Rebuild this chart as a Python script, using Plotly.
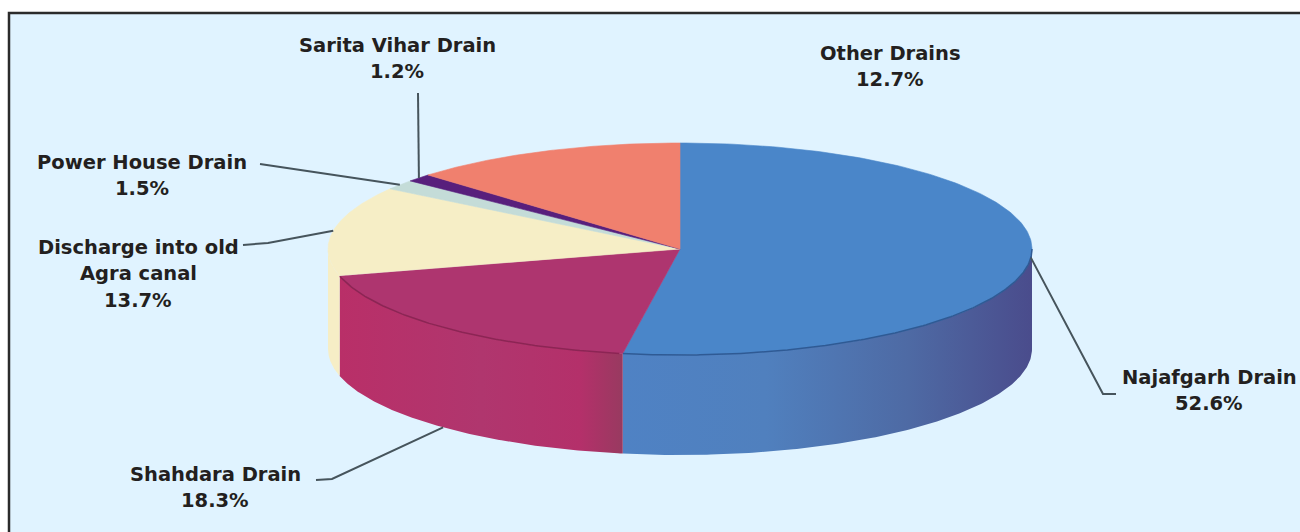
import numpy as np
import plotly.graph_objects as go

# ---- data ----
labels = ["Najafgarh Drain", "Shahdara Drain", "Discharge into old<br>Agra canal",
          "Power House Drain", "Sarita Vihar Drain", "Other Drains"]
shares = [52.6, 18.3, 13.7, 1.5, 1.2, 12.7]

# ---- styles ----
top_colors = ["#4a86c9", "#ae356f", "#f6eec6", "#c4dcd8", "#581f7c", "#f0806e"]
wall_scales = [
    [[0, "#4f82c4"], [0.35, "#5080be"], [0.7, "#4e6aa4"], [1, "#4a4c8c"]],
    [[0, "#b92f68"], [0.5, "#b0366e"], [0.85, "#b4306a"], [1, "#983a60"]],
    [[0, "#f6eec6"], [1, "#f6eec6"]],
    [[0, "#c4dcd8"], [1, "#c4dcd8"]],
    [[0, "#581f7c"], [1, "#581f7c"]],
    [[0, "#f0806e"], [1, "#f0806e"]],
]
BG = "#e0f3ff"
CX, CY, RX, RY, DEPTH = 680, 249, 352, 106, 100
LINE_GAP = 26.5

# label placement (pixel-like axis units): centre x, y of first line
label_pos = [(1209, 377), (215, 474), (138, 247), (142, 162), (397, 45), (890, 53)]
# leader waypoints after the rim point; None = no leader
leaders = [[(1103, 394), (1116, 394)], [(332, 479), (316, 480)], [(268, 243), (243, 245)],
           [(260, 164)], [(418, 93)], None]
leader_on_wall = [False, True, False, False, False, False]

def pt(deg, dy=0.0):
    a = np.radians(deg)
    return CX + RX * np.sin(a), CY - RY * np.cos(a) + dy

fig = go.Figure()
edges = np.concatenate([[0], np.cumsum(shares)]) / sum(shares) * 360

# walls (only the front half of the rim, 90..270 deg clockwise from top)
for i in range(len(shares)):
    a0, a1 = max(edges[i], 90), min(edges[i + 1], 270)
    if a1 <= a0:
        continue
    t = np.linspace(a0, a1, 160)
    xt, yt = pt(t)
    xb, yb = pt(t, DEPTH)
    fig.add_trace(go.Scatter(
        x=np.r_[xt, xb[::-1], xt[0]], y=np.r_[yt, yb[::-1], yt[0]],
        mode="lines", line=dict(width=0), fill="toself",
        fillgradient=dict(type="horizontal", colorscale=wall_scales[i]),
        hoverinfo="skip", showlegend=False))

# top faces
for i in range(len(shares)):
    t = np.linspace(edges[i], edges[i + 1], 200)
    x, y = pt(t)
    fig.add_trace(go.Scatter(
        x=np.r_[CX, x, CX], y=np.r_[CY, y, CY],
        mode="lines", line=dict(width=0.6, color=top_colors[i]), fill="toself",
        fillcolor=top_colors[i], name=labels[i].replace("<br>", " "),
        text=f"{shares[i]}%", hoverinfo="name+text", showlegend=False))

# darker front rim of the top face
t = np.linspace(90, 270, 300)
x, y = pt(t)
for lo, hi, col in [(90, edges[1], "#2f5a94"), (edges[1], 255.5, "#8c2554")]:
    m = (t >= lo) & (t <= hi)
    fig.add_trace(go.Scatter(x=x[m], y=y[m], mode="lines", line=dict(width=1.5, color=col),
                             hoverinfo="skip", showlegend=False))

# leaders, from each slice's mid-angle on the rim
for i, way in enumerate(leaders):
    if way is None:
        continue
    mid = (edges[i] + edges[i + 1]) / 2
    sx, sy = pt(mid, DEPTH if leader_on_wall[i] else 0)
    fig.add_trace(go.Scatter(x=[sx] + [p[0] for p in way], y=[sy] + [p[1] for p in way],
                             mode="lines", line=dict(width=2, color="#46545c"),
                             hoverinfo="skip", showlegend=False))

# labels, one annotation per line to hold the reference's line spacing
for i, (lx, ly) in enumerate(label_pos):
    lines = labels[i].split("<br>") + [f"{shares[i]}%"]
    for k, txt in enumerate(lines):
        fig.add_annotation(x=lx, y=ly + k * LINE_GAP, text=f"<b>{txt}</b>", showarrow=False,
                           align="center", xanchor="center", yanchor="middle",
                           font=dict(family="DejaVu Sans", size=19.5, color="#231f20"))

fig.update_layout(
    width=1300, height=532, margin=dict(l=0, r=0, t=0, b=0), autosize=False,
    paper_bgcolor="white", plot_bgcolor="white",
    xaxis=dict(range=[0, 1300], visible=False, fixedrange=True),
    yaxis=dict(range=[532, 0], visible=False, fixedrange=True),
    shapes=[dict(type="rect", layer="below", xref="x", yref="y", x0=9, y0=13, x1=1320, y1=550,
                 fillcolor=BG, line=dict(color="#2b2b2b", width=2.5))],
)
fig.write_html("out.html", config={"displayModeBar": False},
               post_script="document.body.style.margin='0';document.body.style.overflow='hidden';")
